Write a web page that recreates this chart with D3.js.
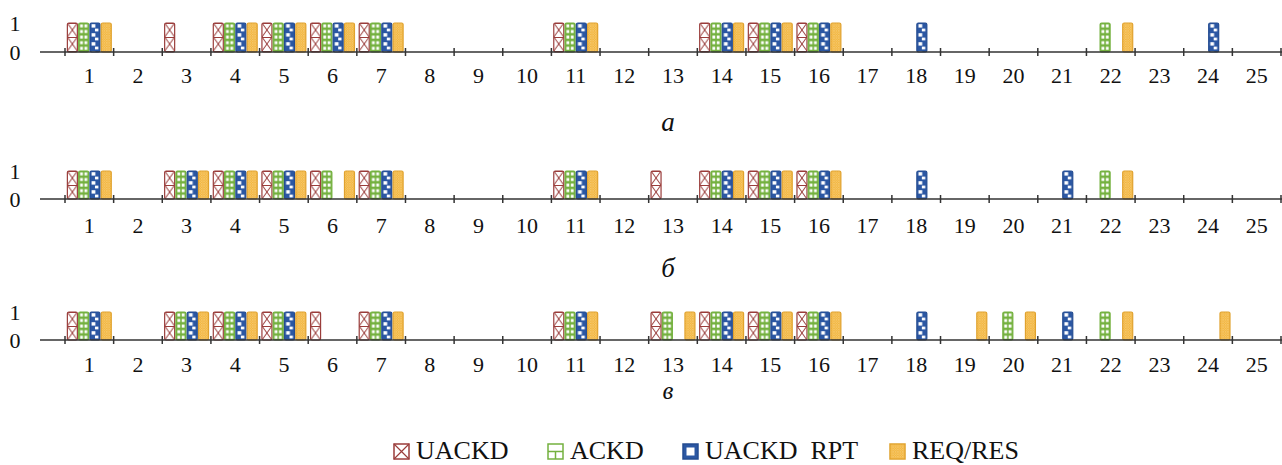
<!DOCTYPE html>
<html>
<head>
<meta charset="utf-8">
<script src="https://cdn.jsdelivr.net/npm/d3@7"></script>
<style>
  html, body { margin: 0; padding: 0; background: #fff; }
  svg { display: block; }
  text { font-family: "Liberation Serif", "Times New Roman", serif; fill: #111; }
</style>
</head>
<body>
<svg id="chart" width="1282" height="465"></svg>
<script>
// ---- data ----
const categories = d3.range(1, 26).map(String);
const seriesNames = ["UACKD", "ACKD", "UACKD  RPT", "REQ/RES"];
const yTickLabels = ["0", "1"];
const panelLabels = ["а", "б", "в"];

// panel а
const a_UACKD    = [1,0,1,1,1,1,1,0,0,0,1,0,0,1,1,1,0,0,0,0,0,0,0,0,0];
const a_ACKD     = [1,0,0,1,1,1,1,0,0,0,1,0,0,1,1,1,0,0,0,0,0,1,0,0,0];
const a_UACKDRPT = [1,0,0,1,1,1,1,0,0,0,1,0,0,1,1,1,0,1,0,0,0,0,0,1,0];
const a_REQRES   = [1,0,0,1,1,1,1,0,0,0,1,0,0,1,1,1,0,0,0,0,0,1,0,0,0];
// panel б
const b_UACKD    = [1,0,1,1,1,1,1,0,0,0,1,0,1,1,1,1,0,0,0,0,0,0,0,0,0];
const b_ACKD     = [1,0,1,1,1,1,1,0,0,0,1,0,0,1,1,1,0,0,0,0,0,1,0,0,0];
const b_UACKDRPT = [1,0,1,1,1,0,1,0,0,0,1,0,0,1,1,1,0,1,0,0,1,0,0,0,0];
const b_REQRES   = [1,0,1,1,1,1,1,0,0,0,1,0,0,1,1,1,0,0,0,0,0,1,0,0,0];
// panel в
const c_UACKD    = [1,0,1,1,1,1,1,0,0,0,1,0,1,1,1,1,0,0,0,0,0,0,0,0,0];
const c_ACKD     = [1,0,1,1,1,0,1,0,0,0,1,0,1,1,1,1,0,0,0,1,0,1,0,0,0];
const c_UACKDRPT = [1,0,1,1,1,0,1,0,0,0,1,0,0,1,1,1,0,1,0,0,1,0,0,0,0];
const c_REQRES   = [1,0,1,1,1,0,1,0,0,0,1,0,1,1,1,1,0,0,1,1,0,1,0,1,0];

const panels = [
  { label: panelLabels[0], values: [a_UACKD, a_ACKD, a_UACKDRPT, a_REQRES] },
  { label: panelLabels[1], values: [b_UACKD, b_ACKD, b_UACKDRPT, b_REQRES] },
  { label: panelLabels[2], values: [c_UACKD, c_ACKD, c_UACKDRPT, c_REQRES] }
];

// ---- layout / style ----
const layout = [
  { axisY: 52,  topY: 23,  labelY: 83,  titleY: 131, titleSize: 27 },
  { axisY: 199, topY: 171, labelY: 233, titleY: 277, titleSize: 27 },
  { axisY: 340, topY: 312, labelY: 372, titleY: 399, titleSize: 25 }
];
const fills  = ["#ffffff", "#ffffff", "#2b57a3", "#f2b53c"];
const strokes = ["#9a3d3b", "#74b13f", "#244c91", "#e0a22e"];

const svg = d3.select("#chart");
const defs = svg.append("defs");

const x = d3.scaleBand().domain(categories).range([65, 1281]).padding(0);
const xi = d3.scaleBand().domain(d3.range(4)).range([0, x.bandwidth()])
  .paddingInner(0.115).paddingOuter(0.21);

let pid = 0;
function makePattern(s, px, py, w) {
  const id = "pat" + (pid++);
  let p;
  if (s === 0) {
    const h = 14;
    p = defs.append("pattern").attr("id", id).attr("patternUnits", "userSpaceOnUse")
      .attr("x", px).attr("y", py).attr("width", w).attr("height", h);
    p.append("rect").attr("width", w).attr("height", h).attr("fill", fills[0]);
    const g = p.append("g").attr("stroke", strokes[0]).attr("stroke-width", 1).attr("fill", "none");
    g.append("line").attr("x1", 0).attr("y1", 0).attr("x2", w).attr("y2", h);
    g.append("line").attr("x1", w).attr("y1", 0).attr("x2", 0).attr("y2", h);
    g.append("line").attr("x1", 0).attr("y1", 0.5).attr("x2", w).attr("y2", 0.5);
  } else if (s === 1) {
    const h = 5.6;
    p = defs.append("pattern").attr("id", id).attr("patternUnits", "userSpaceOnUse")
      .attr("x", px).attr("y", py).attr("width", w).attr("height", h);
    p.append("rect").attr("width", w).attr("height", h).attr("fill", strokes[1]);
    p.append("rect").attr("x", 1.4).attr("y", 1.4).attr("width", w / 2 - 2.2).attr("height", h - 2.6).attr("fill", "#fff");
    p.append("rect").attr("x", w / 2 + 0.8).attr("y", 1.4).attr("width", w / 2 - 2.2).attr("height", h - 2.6).attr("fill", "#fff");
  } else if (s === 2) {
    const h = 9;
    p = defs.append("pattern").attr("id", id).attr("patternUnits", "userSpaceOnUse")
      .attr("x", px).attr("y", py).attr("width", w).attr("height", h);
    p.append("rect").attr("width", w).attr("height", h).attr("fill", fills[2]);
    p.append("rect").attr("x", 1.6).attr("y", 1.2).attr("width", w / 2 - 1.2).attr("height", 3.4).attr("fill", "#fff");
    p.append("rect").attr("x", w / 2).attr("y", 5.6).attr("width", w / 2 - 1.6).attr("height", 2.8).attr("fill", "#fff");
  } else {
    const t = 2.4;
    p = defs.append("pattern").attr("id", id).attr("patternUnits", "userSpaceOnUse")
      .attr("x", px).attr("y", py).attr("width", t).attr("height", t);
    p.append("rect").attr("width", t).attr("height", t).attr("fill", fills[3]);
    p.append("rect").attr("x", 0.3).attr("y", 0.3).attr("width", 0.9).attr("height", 0.9).attr("fill", "#fff").attr("opacity", 0.65);
    p.append("rect").attr("x", 1.5).attr("y", 1.5).attr("width", 0.7).attr("height", 0.7).attr("fill", "#fff").attr("opacity", 0.4);
  }
  return "url(#" + id + ")";
}

panels.forEach((panel, pi) => {
  const L = layout[pi];
  const y = d3.scaleLinear().domain([0, 1]).range([L.axisY, L.topY]);
  const g = svg.append("g");

  // bars
  panel.values.forEach((vals, s) => {
    vals.forEach((v, ci) => {
      if (!v) return;
      const bx = x(categories[ci]) + xi(s);
      const by = y(v);
      const bw = xi.bandwidth();
      const bh = y(0) - y(v);
      g.append("rect")
        .attr("x", bx).attr("y", by).attr("width", bw).attr("height", bh)
        .attr("rx", 1.5)
        .attr("fill", makePattern(s, bx, by, bw))
        .attr("stroke", strokes[s]).attr("stroke-width", 1.2);
    });
  });

  // x axis line
  g.append("line").attr("x1", 40).attr("x2", 1282)
    .attr("y1", y(0)).attr("y2", y(0))
    .attr("stroke", "#333").attr("stroke-width", 1.5);
  // ticks at band edges
  const edges = categories.map(c => x(c)).concat([x(categories[24]) + x.bandwidth()]);
  g.selectAll("line.tick").data(edges).join("line")
    .attr("x1", d => d).attr("x2", d => d)
    .attr("y1", y(0) - 4).attr("y2", y(0) + 4)
    .attr("stroke", "#333").attr("stroke-width", 1.5);
  // category labels
  g.selectAll("text.cat").data(categories).join("text")
    .attr("x", d => x(d) + x.bandwidth() / 2)
    .attr("y", L.labelY)
    .attr("text-anchor", "middle")
    .attr("font-size", 22)
    .text(d => d);
  // y labels
  yTickLabels.forEach(t => {
    g.append("text").attr("x", 15).attr("y", y(+t)).attr("dy", "0.36em")
      .attr("text-anchor", "middle").attr("font-size", 22).text(t);
  });
  // panel letter
  g.append("text").attr("x", 668).attr("y", L.titleY)
    .attr("text-anchor", "middle").attr("font-size", L.titleSize)
    .attr("font-style", "italic").text(panel.label);
});

// legend
const legendPos = [394, 548, 683, 890];
const lg = svg.append("g");
seriesNames.forEach((name, s) => {
  const lx = legendPos[s], ly = 444;
  lg.append("rect").attr("x", lx).attr("y", ly).attr("width", 15).attr("height", 15)
    .attr("fill", s === 0 ? "#fff" : (s === 1 ? "#fff" : fills[s]))
    .attr("stroke", strokes[s]).attr("stroke-width", 1.5);
  if (s === 0) {
    lg.append("path").attr("d", `M${lx},${ly}L${lx+15},${ly+15}M${lx+15},${ly}L${lx},${ly+15}`)
      .attr("stroke", strokes[0]).attr("stroke-width", 1.2);
  } else if (s === 1) {
    lg.append("path").attr("d", `M${lx},${ly+7.5}L${lx+15},${ly+7.5}M${lx+7.5},${ly+7.5}L${lx+7.5},${ly+15}`)
      .attr("stroke", strokes[1]).attr("stroke-width", 1.5);
  } else if (s === 2) {
    lg.append("rect").attr("x", lx + 3.5).attr("y", ly + 3.5).attr("width", 8).attr("height", 8)
      .attr("fill", "#fff");
  } else {
    lg.append("rect").attr("x", lx + 0.75).attr("y", ly + 0.75).attr("width", 13.5).attr("height", 13.5)
      .attr("fill", makePattern(3, lx, ly, 15));
  }
  lg.append("text").attr("x", lx + 22).attr("y", 459)
    .attr("font-size", 26).style("white-space", "pre").text(name);
});
</script>
</body>
</html>
